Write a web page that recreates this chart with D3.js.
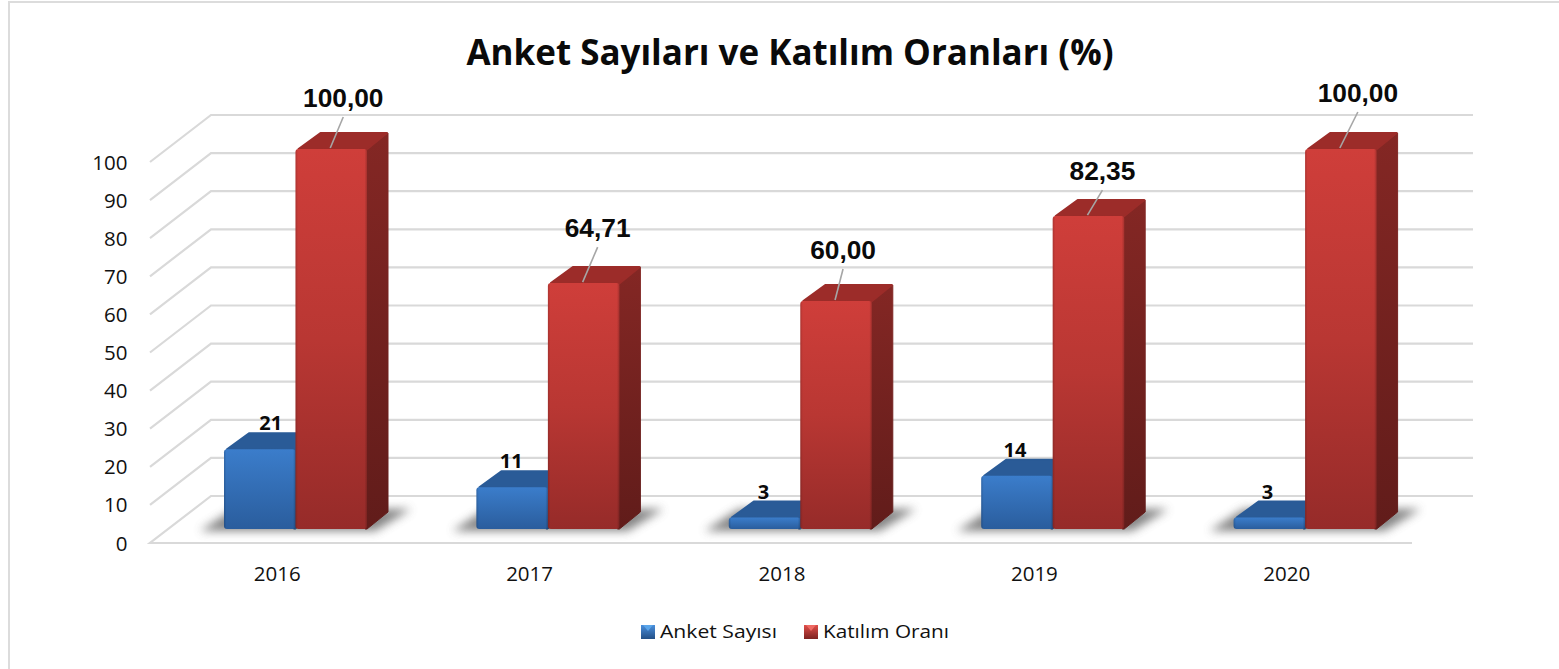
<!DOCTYPE html>
<html><head><meta charset="utf-8"><style>html,body{margin:0;padding:0;background:#fff}svg{display:block}</style>
<script src="https://cdn.jsdelivr.net/npm/d3@7"></script></head><body><svg id="c" width="1559" height="669"></svg>
<script>
const categories = ["2016","2017","2018","2019","2020"];
const anketSayisi = [21,11,3,14,3];
const katilimOrani = [100,64.71,60,82.35,100];
const katilimLabels = ["100,00","64,71","60,00","82,35","100,00"];
const yTicks = [0,10,20,30,40,50,60,70,80,90,100];
const seriesNames = ["Anket Sayısı","Katılım Oranı"];
const titleText = "Anket Sayıları ve Katılım Oranları (%)";

// manual label placement (offsets from the top of each bar)
const redLabelShift = [[12,-42],[14,-46],[7,-42],[14,-36],[17,-47]];
const blueLabelShift = [11,-1,-1,-2,-2];

const svg = d3.select("#c");
const defs = svg.append("defs");
const sans = "'Open Sans','Noto Sans',sans-serif";

function grad(id,stops,horizontal){
  const g = defs.append("linearGradient").attr("id",id).attr("x1",0).attr("y1",0)
    .attr("x2",horizontal?1:0).attr("y2",horizontal?0:1);
  stops.forEach(s=>{
    const st = g.append("stop").attr("offset",s[0]).attr("stop-color",s[1]);
    if(s[2]!==undefined) st.attr("stop-opacity",s[2]);
  });
}
grad("redF",[[0,"#cf3e3a"],[0.5,"#b93733"],[1,"#962b29"]]);
grad("redS",[[0,"#842724"],[1,"#611c1a"]]);
grad("blueF",[[0,"#3b7dcb"],[1,"#2a5d9d"]]);
grad("blueS",[[0,"#2a5a96"],[1,"#1f4777"]]);
grad("legB",[[0,"#4a8fdc"],[1,"#234f86"]]);
grad("legR",[[0,"#e04e49"],[1,"#7d2220"]]);
grad("edge",[[0,"#000",0.16],[0.035,"#000",0],[0.965,"#000",0],[1,"#000",0.2]],true);
defs.append("filter").attr("id","blur").attr("x","-20%").attr("y","-80%").attr("width","140%").attr("height","260%")
  .append("feGaussianBlur").attr("stdDeviation",5);

svg.append("path").attr("d","M9,669V2H1559").attr("fill","none").attr("stroke","#dcdcdc").attr("stroke-width",2);

const frontLeft = 150, frontRight = 1412, floorFront = 543;
const backDX = 61, backDY = -47;
const barDX = 22, barDY = -17;
const barBase = 529;
const gridY = d3.scaleLinear().domain([0,100]).range([floorFront,floorFront-381]);
const barH = d3.scaleLinear().domain([0,100]).range([0,380]);
const xBand = d3.scaleBand().domain(categories).range([frontLeft,frontRight]);
const barW = 71.5, firstBar = 74;

const grid = svg.append("g").attr("fill","none").attr("stroke","#d9d9d9").attr("stroke-width",2.2);
yTicks.forEach(t=>{
  const y = gridY(t);
  if(t===0){
    grid.append("path").attr("d",`M${frontRight},${y}H${frontLeft}L${frontLeft+backDX},${y+backDY}H${frontRight+backDX}`);
  } else {
    grid.append("path").attr("d",`M${frontLeft},${y}L${frontLeft+backDX},${y+backDY}H${frontRight+backDX}`);
  }
});

svg.append("g").selectAll("text").data(yTicks).join("text")
  .attr("x",127.5).attr("y",d=>gridY(d)+7.5).attr("text-anchor","end")
  .attr("font-family",sans).attr("font-size",20.5).attr("fill","#111").text(d=>d);

svg.append("g").selectAll("text").data(categories).join("text")
  .attr("x",d=>xBand(d)+xBand.bandwidth()/2+1).attr("y",581).attr("text-anchor","middle")
  .attr("font-family",sans).attr("font-size",20.5).attr("fill","#111").text(d=>d);

svg.append("g").selectAll("path").data(categories).join("path")
  .attr("filter","url(#blur)").attr("fill","#666").attr("opacity",0.8)
  .attr("d",d=>{
    const x = xBand(d)+firstBar;
    return `M${x-24},${barBase+2}H${x+2*barW+8}L${x+2*barW+44},${barBase-20}H${x+10}Z`;
  });

function bar(g,x,h,f,t,s){
  const y = barBase-h;
  g.append("path").attr("fill",`url(#${s})`).attr("stroke",`url(#${s})`).attr("stroke-width",1).attr("stroke-linejoin","round")
    .attr("d",`M${x+barW-2},${barBase}V${y}L${x+barW+barDX-1},${y+barDY+1}V${barBase+barDY}L${x+barW},${barBase}Z`);
  g.append("path").attr("fill",t).attr("stroke",t).attr("stroke-width",2).attr("stroke-linejoin","round")
    .attr("d",`M${x+3},${y}L${x+barDX+3},${y+barDY+1}H${x+barW+barDX-2}L${x+barW-1},${y+1}Z`);
  g.append("rect").attr("x",x).attr("y",y).attr("width",barW).attr("height",h)
    .attr("rx",Math.min(3,h/3)).attr("fill",`url(#${f})`);
  g.append("rect").attr("x",x).attr("y",y).attr("width",barW).attr("height",h)
    .attr("rx",Math.min(3,h/3)).attr("fill","url(#edge)");
}
const bars = svg.append("g");
categories.forEach((c,i)=>{
  const x0 = xBand(c)+firstBar;
  const g = bars.append("g");
  bar(g,x0,barH(anketSayisi[i]),"blueF","#2a5b97","blueS");
  bar(g,x0+barW,barH(katilimOrani[i]),"redF","#9c2c29","redS");
});

const labels = svg.append("g");
categories.forEach((c,i)=>{
  const x0 = xBand(c)+firstBar;
  const topY = barBase-barH(katilimOrani[i]);
  const cx = x0+barW+barW/2;
  const [sx,sy] = redLabelShift[i];
  labels.append("line").attr("x1",cx-1).attr("y1",topY-1).attr("x2",cx+sx).attr("y2",topY+sy+10)
    .attr("stroke","#a6a6a6").attr("stroke-width",1.6);
  labels.append("text").attr("x",cx+sx).attr("y",topY+sy).attr("text-anchor","middle")
    .attr("font-family","'Liberation Sans',Arial,sans-serif").attr("font-weight",700)
    .attr("font-size",26.3).attr("fill","#0a0a0a").text(katilimLabels[i]);
  const by = barBase-barH(anketSayisi[i]);
  labels.append("text").attr("x",x0+barW/2+blueLabelShift[i]).attr("y",by-19).attr("text-anchor","middle")
    .attr("font-family",sans).attr("font-weight",700)
    .attr("font-size",20).attr("fill","#0a0a0a").text(anketSayisi[i]);
});

svg.append("text").attr("x",790).attr("y",64.5).attr("text-anchor","middle")
  .attr("font-family",sans).attr("font-weight",700).attr("font-size",35).attr("fill","#0a0a0a")
  .attr("textLength",647).attr("lengthAdjust","spacingAndGlyphs").text(titleText);

const legend = svg.append("g");
[[641,"legB",660,117],[804,"legR",823,126]].forEach((l,i)=>{
  legend.append("rect").attr("x",l[0]).attr("y",625).attr("width",14).attr("height",14).attr("fill",`url(#${l[1]})`);
  legend.append("path").attr("d",`M${l[0]+2},625h10l-5,6Z`).attr("fill",i?"#ef6a63":"#5aa5ea");
  legend.append("text").attr("x",l[2]).attr("y",638).attr("font-family",sans).attr("font-size",19)
    .attr("fill","#111").attr("textLength",l[3]).attr("lengthAdjust","spacingAndGlyphs").text(seriesNames[i]);
});
</script></body></html>
